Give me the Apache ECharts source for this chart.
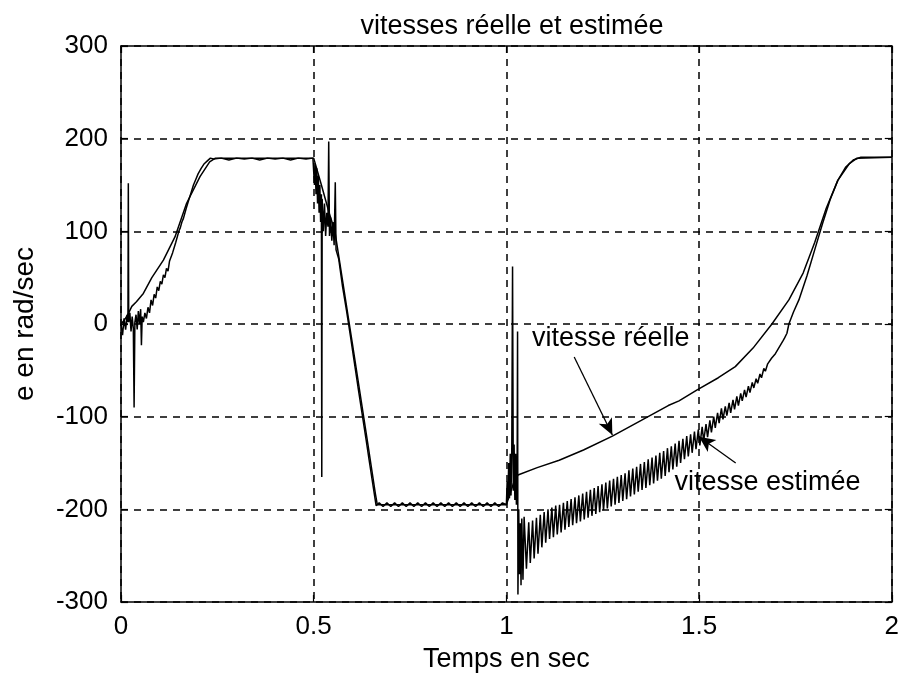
<!DOCTYPE html>
<html><head><meta charset="utf-8">
<script src="https://cdn.jsdelivr.net/npm/echarts@6/dist/echarts.min.js"></script>
<style>html,body{margin:0;padding:0;background:#fff}#c{width:902px;height:681px}</style>
</head><body><div id="c"></div>
<script>
const xTickStep = 0.5;
const yTickStep = 100;
const xRange = [0, 2];
const yRange = [-300, 300];

const timeReal = [0,0.01,0.02,0.028,0.04,0.058,0.08,0.11,0.14,0.17,0.205,0.23,0.245,0.5,0.52,0.54,0.555,0.6,0.64,0.66,0.665,1.0,1.02,1.03,1.08,1.137,1.2,1.275,1.35,1.42,1.448,1.495,1.55,1.594,1.64,1.689,1.733,1.77,1.8,1.83,1.86,1.89,1.91,2.0];
const speedReal = [0,5,12,19,24,33,50,69,94,130,159,175,179,179,150,120,100,-20,-128,-183,-195,-195,-170,-163,-155,-147,-136,-121,-104,-88,-83,-71,-58,-46,-26,0,26,55,88,125,155,173,179,180];

const timeEst = [0,0.004,0.008,0.012,0.016,0.018,0.019,0.02,0.023,0.026,0.029,0.032,0.034,0.036,0.039,0.042,0.045,0.048,0.051,0.053,0.055,0.058,
0.062,0.066,0.07,0.074,0.078,0.082,0.086,0.09,0.094,0.098,0.102,0.106,0.11,0.114,0.118,0.122,0.126,0.13,0.134,0.138,0.142,0.146,0.15,0.154,0.158,0.162,0.166,0.17,0.176,0.182,0.188,0.194,0.2,0.208,0.216,0.224,0.232,0.24,0.26,0.28,0.3,0.32,0.34,0.36,0.38,0.4,0.42,0.44,0.46,0.48,0.498,
0.5,0.502,0.504,0.506,0.508,0.51,0.512,0.514,0.516,0.518,0.52,0.521,0.522,0.525,0.528,0.531,0.534,0.537,0.539,0.541,0.544,0.547,0.55,0.553,0.556,0.558,0.565,0.575,0.585,0.595,0.605,0.615,0.625,0.635,0.645,0.655,0.662,
0.67,0.68,0.69,0.7,0.71,0.72,0.73,0.74,0.75,0.76,0.77,0.78,0.79,0.8,0.81,0.82,0.83,0.84,0.85,0.86,0.87,0.88,0.89,0.9,0.91,0.92,0.93,0.94,0.95,0.96,0.97,0.98,0.99,1.0,
1.002,1.004,1.006,1.008,1.01,1.012,1.014,1.016,1.018,1.02,1.022,1.024,1.026,1.028,1.029,1.03,1.032,1.034,1.036,1.038,1.04,1.043,1.046,
1.052,1.058,1.062,1.068,1.072,1.078,1.082,1.088,1.092,1.098,1.102,1.108,1.112,1.118,1.122,1.128,1.132,1.138,1.142,1.148,1.152,1.158,1.162,1.168,1.172,1.178,1.182,1.188,1.192,1.198,
1.202,1.208,1.212,1.218,1.222,1.228,1.232,1.238,1.242,1.248,1.252,1.258,1.262,1.268,1.272,1.278,1.282,1.288,1.292,1.298,
1.302,1.308,1.312,1.318,1.322,1.328,1.332,1.338,1.342,1.348,1.352,1.358,1.362,1.368,1.372,1.378,1.382,1.388,1.392,1.398,
1.402,1.408,1.412,1.418,1.422,1.428,1.432,1.438,1.442,1.448,1.452,1.458,1.462,1.468,1.472,1.478,1.482,1.488,1.492,1.498,
1.502,1.508,1.512,1.518,1.522,1.528,1.532,1.538,1.542,1.548,1.552,1.558,1.562,1.568,1.572,1.578,1.582,1.588,1.592,1.598,
1.602,1.608,1.612,1.618,1.622,1.628,1.632,1.638,1.642,1.648,1.652,1.658,1.662,1.668,1.672,1.678,1.682,1.688,1.692,1.698,
1.702,1.708,1.712,1.718,1.722,1.728,1.733,1.745,1.759,1.78,1.8,1.82,1.84,1.86,1.88,1.9,1.92,2.0];
const speedEst = [0,-12,6,-6,10,2,152,2,12,-8,8,-5,-90,2,10,-6,14,0,16,-23,8,2,
12,6,18,12,26,20,32,28,40,36,46,43,53,50,60,57,68,66,77,75,88,86,100,104,110,114,120,126,134,142,150,156,162,168,173,176,179,178,179,177,179,178,179,177,179,178,179,177,179,178,179,
179,150,172,140,168,130,160,120,150,110,140,-165,135,100,130,95,120,105,197,95,115,90,110,85,153,80,70,40,15,-12,-40,-68,-95,-122,-150,-177,-196,
-193,-197,-193,-197,-193,-197,-193,-197,-193,-197,-193,-197,-193,-197,-193,-197,-193,-197,-193,-197,-193,-197,-193,-197,-193,-197,-193,-197,-193,-197,-193,-197,-193,-195,
-170,-190,-150,-188,-140,-185,-135,62,-180,-130,-190,-140,-195,-150,-8,-292,-200,-270,-215,-282,-210,-276,-208,
-264,-214,-258,-212,-253,-209,-248,-206,-241,-203,-236,-200,-232,-198,-230,-196,-227,-195,-225,-193,-222,-191,-219,-189,-217,-187,-215,-185,-213,-183,
-211,-181,-209,-179,-207,-177,-205,-175,-203,-173,-201,-171,-199,-169,-197,-167,-195,-165,-193,-163,
-191,-161,-189,-158,-186,-156,-184,-154,-181,-151,-179,-149,-177,-146,-174,-144,-172,-142,-169,-139,
-167,-137,-164,-134,-160,-132,-157,-129,-154,-126,-150,-124,-146,-121,-143,-119,-139,-116,-135,-114,
-131,-111,-126,-108,-122,-104,-117,-100,-112,-96,-107,-91,-103,-89,-99,-85,-96,-82,-92,-78,
-88,-75,-83,-71,-79,-67,-74,-63,-69,-59,-64,-54,-58,-48,-51,-43,-45,-37,-38,-32,
-31,-25,-23,-18,-15,-10,0,13,26,52,80,108,134,155,169,177,180,180];

const annotTexts = ['vitesse réelle', 'vitesse estimée'];
const annotAt = [[1.065, -16], [1.435, -171.5]];
const arrowFrom = [[1.176, -35.6], [1.595, -150]];
const arrowTo = [[1.275, -119.7], [1.5, -121.6]];

const FONT = 'Liberation Sans, Arial, sans-serif';
const pairs = (xs, ys) => xs.map((x, i) => [x, ys[i]]);

const chart = echarts.init(document.getElementById('c'), null, {renderer: 'canvas'});
const axisBase = {
  axisLine: {show: true, onZero: false, lineStyle: {color: '#000', width: 1.5}},
  axisTick: {show: true, inside: true, length: 7, lineStyle: {color: '#000', width: 1.2}},
};
chart.setOption({
  animation: false,
  backgroundColor: '#fff',
  title: {
    text: 'vitesses réelle et estimée',
    left: 507, top: 8, textAlign: 'center',
    textStyle: {fontFamily: FONT, fontSize: 27, fontWeight: 'normal', color: '#000'}
  },
  grid: {left: 121, right: 9, top: 46, bottom: 79, containLabel: false},
  xAxis: [
    Object.assign({
      type: 'value', min: xRange[0], max: xRange[1], interval: xTickStep, position: 'bottom',
      axisLabel: {color: '#000', fontSize: 26, fontFamily: FONT, margin: 12},
      splitLine: {show: true, lineStyle: {type: [7, 6], color: '#000', width: 1.5}},
      name: 'Temps en sec', nameLocation: 'middle', nameGap: 44,
      nameTextStyle: {fontSize: 27, fontFamily: FONT, color: '#000'}
    }, axisBase),
    Object.assign({
      type: 'value', min: xRange[0], max: xRange[1], interval: xTickStep, position: 'top',
      axisLabel: {show: false}, splitLine: {show: false}
    }, axisBase)
  ],
  yAxis: [
    Object.assign({
      type: 'value', min: yRange[0], max: yRange[1], interval: yTickStep, position: 'left',
      axisLabel: {color: '#000', fontSize: 26, fontFamily: FONT, margin: 13},
      splitLine: {show: true, lineStyle: {type: [7, 6], color: '#000', width: 1.5}},
      name: 'e en rad/sec', nameLocation: 'middle', nameGap: 82, nameRotate: 90,
      nameTextStyle: {fontSize: 28, fontFamily: FONT, color: '#000'}
    }, axisBase),
    Object.assign({
      type: 'value', min: yRange[0], max: yRange[1], interval: yTickStep, position: 'right',
      axisLabel: {show: false}, splitLine: {show: false}
    }, axisBase)
  ],
  series: [
    {
      name: 'vitesse estimée', type: 'line', showSymbol: false, symbol: 'none',
      data: pairs(timeEst, speedEst),
      lineStyle: {color: '#000', width: 1.5}, z: 3
    },
    {
      name: 'vitesse réelle', type: 'line', showSymbol: false, symbol: 'none',
      data: pairs(timeReal, speedReal),
      lineStyle: {color: '#000', width: 1.5}, z: 4,
      markLine: {
        silent: true, symbol: ['none', 'arrow'], symbolSize: [11, 16],
        lineStyle: {color: '#000', width: 1.3, type: 'solid'},
        label: {show: false},
        data: arrowFrom.map((f, i) => [{coord: f}, {coord: arrowTo[i]}])
      },
      markPoint: {
        silent: true, symbol: 'rect', symbolSize: 1,
        itemStyle: {color: 'rgba(0,0,0,0)'},
        label: {show: true, position: 'right', distance: 0, color: '#000', fontSize: 27, fontFamily: FONT},
        data: annotAt.map((c, i) => ({coord: c, label: {formatter: annotTexts[i]}}))
      }
    }
  ]
});
</script>
</body></html>
